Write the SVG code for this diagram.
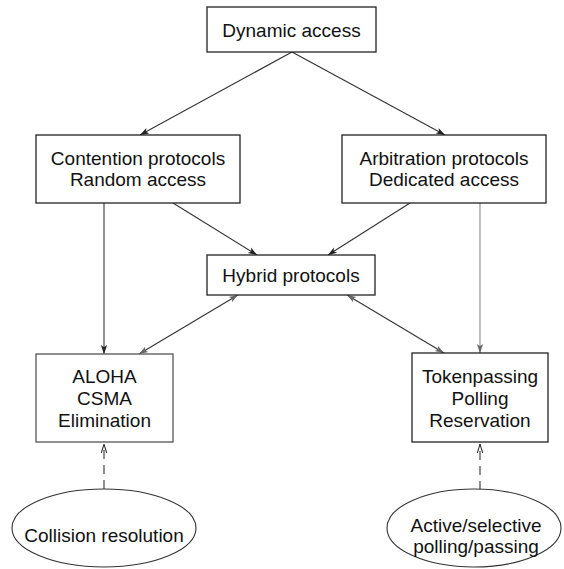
<svg xmlns="http://www.w3.org/2000/svg" width="564" height="569" viewBox="0 0 564 569">
<style>
.box{fill:#fff;stroke:#222;stroke-width:1.3}
.ell{fill:#fff;stroke:#333;stroke-width:1.1}
.t{font-family:"Liberation Sans",Arial,sans-serif;font-size:19px;fill:#111;text-anchor:middle}
.c{fill:none;stroke:#333;stroke-width:1.1}
.g{fill:none;stroke:#888;stroke-width:1.1}
.d{fill:none;stroke:#333;stroke-width:1.1;stroke-dasharray:9,6}
</style>
<defs>
<marker id="ah" viewBox="0 0 10 10" refX="10" refY="5" markerWidth="9" markerHeight="9" markerUnits="userSpaceOnUse" orient="auto-start-reverse">
<path d="M0,1.5 L10,5 L0,8.5 L2.5,5 Z" fill="#222"/>
</marker>
<marker id="ahg" viewBox="0 0 10 10" refX="10" refY="5" markerWidth="9" markerHeight="9" markerUnits="userSpaceOnUse" orient="auto-start-reverse">
<path d="M0,1.5 L10,5 L0,8.5 L2.5,5 Z" fill="#666"/>
</marker>
<marker id="ao" viewBox="0 0 10 10" refX="10" refY="5" markerWidth="9" markerHeight="9" markerUnits="userSpaceOnUse" orient="auto">
<path d="M0,2 L10,5 L0,8" fill="none" stroke="#333" stroke-width="1.2"/>
</marker>
</defs>
<g id="connectors">
<line class="c" x1="292" y1="52" x2="140" y2="135" marker-end="url(#ah)"/>
<line class="c" x1="292" y1="52" x2="445" y2="135" marker-end="url(#ah)"/>
<line class="c" x1="104" y1="203" x2="104" y2="354" marker-end="url(#ah)"/>
<line class="c" x1="173" y1="203" x2="257" y2="255" marker-end="url(#ah)"/>
<line class="c" x1="410" y1="203" x2="328" y2="255" marker-end="url(#ah)"/>
<line class="g" x1="480" y1="203" x2="480" y2="353" marker-end="url(#ahg)"/>
<line class="c" x1="238" y1="295" x2="139" y2="354" marker-start="url(#ahg)" marker-end="url(#ahg)"/>
<line class="c" x1="347" y1="295" x2="444" y2="353" marker-start="url(#ahg)" marker-end="url(#ahg)"/>
<line class="d" x1="104" y1="489" x2="104" y2="444" marker-end="url(#ao)"/>
<line class="d" x1="480" y1="490" x2="480" y2="444" marker-end="url(#ao)"/>
</g>
<g id="dynamic">
<rect class="box" x="207" y="7" width="169" height="45"/>
<text class="t" x="291.5" y="37">Dynamic access</text>
</g>
<g id="contention">
<rect class="box" x="36" y="135" width="204" height="68"/>
<text class="t" x="138" y="165">Contention protocols</text>
<text class="t" x="138" y="186">Random access</text>
</g>
<g id="arbitration">
<rect class="box" x="342" y="135" width="204" height="68"/>
<text class="t" x="444" y="165">Arbitration protocols</text>
<text class="t" x="444" y="186">Dedicated access</text>
</g>
<g id="hybrid">
<rect class="box" x="207" y="255" width="168" height="40"/>
<text class="t" x="291" y="282">Hybrid protocols</text>
</g>
<g id="aloha">
<rect class="box" x="36" y="354" width="137" height="88" style="stroke:#555"/>
<text class="t" x="104.5" y="383">ALOHA</text>
<text class="t" x="104.5" y="405">CSMA</text>
<text class="t" x="104.5" y="427">Elimination</text>
</g>
<g id="token">
<rect class="box" x="412" y="353" width="136" height="89"/>
<text class="t" x="480" y="383">Tokenpassing</text>
<text class="t" x="480" y="405">Polling</text>
<text class="t" x="480" y="427">Reservation</text>
</g>
<g id="collision">
<ellipse class="ell" cx="104" cy="528" rx="92" ry="39"/>
<text class="t" x="104" y="542">Collision resolution</text>
</g>
<g id="active">
<ellipse class="ell" cx="474" cy="528" rx="87" ry="39"/>
<text class="t" x="476" y="532">Active/selective</text>
<text class="t" x="476" y="553">polling/passing</text>
</g>
</svg>
